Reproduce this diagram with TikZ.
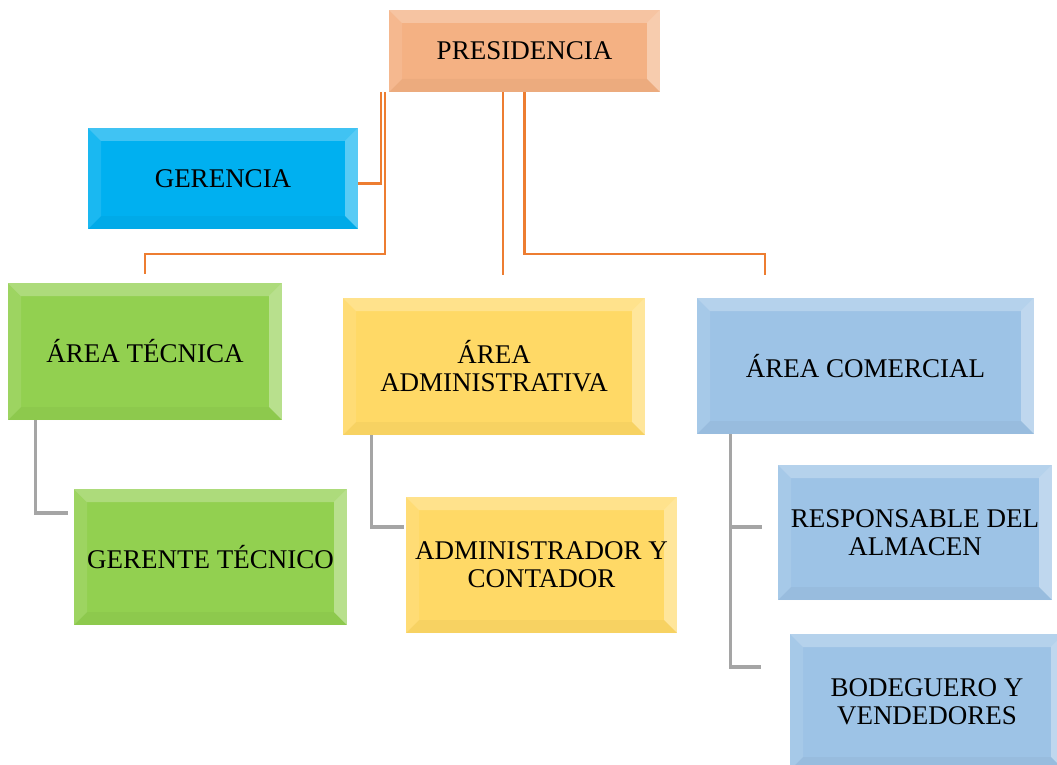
\documentclass[tikz,border=0pt]{standalone}
\usepackage{fontspec}
\setmainfont{Liberation Serif}
\usetikzlibrary{calc}

\definecolor{presfill}{HTML}{F4B183}
\definecolor{gerfill}{HTML}{00B0F0}
\definecolor{tecfill}{HTML}{92D050}
\definecolor{admfill}{HTML}{FFD966}
\definecolor{comfill}{HTML}{9DC3E6}
\definecolor{orangeline}{HTML}{ED7D31}
\definecolor{grayline}{HTML}{A5A5A5}

\begin{document}
\begin{tikzpicture}[x=1pt,y=-1pt,
    bevelbox/.style={rectangle,inner sep=0pt,align=center,
      font=\fontsize{27}{28}\selectfont,
      path picture={
        % top, left, right and bottom bevel bands
        \fill[white,opacity=.25] (path picture bounding box.north west) -- (path picture bounding box.north east)
          -- ([xshift=-13pt,yshift=-13pt]path picture bounding box.north east)
          -- ([xshift=13pt,yshift=-13pt]path picture bounding box.north west) -- cycle;
        \fill[white,opacity=.1] (path picture bounding box.north west) -- (path picture bounding box.south west)
          -- ([xshift=13pt,yshift=13pt]path picture bounding box.south west)
          -- ([xshift=13pt,yshift=-13pt]path picture bounding box.north west) -- cycle;
        \fill[white,opacity=.35] (path picture bounding box.north east) -- (path picture bounding box.south east)
          -- ([xshift=-13pt,yshift=13pt]path picture bounding box.south east)
          -- ([xshift=-13pt,yshift=-13pt]path picture bounding box.north east) -- cycle;
        \fill[black,opacity=.03] (path picture bounding box.south west) -- (path picture bounding box.south east)
          -- ([xshift=-13pt,yshift=13pt]path picture bounding box.south east)
          -- ([xshift=13pt,yshift=13pt]path picture bounding box.south west) -- cycle;
      }},
    orgwire/.style={orangeline,line width=2.6pt},
    graywire/.style={grayline,line width=3.2pt}]

    \useasboundingbox (0,0) rectangle (1057,765);
    \clip (0,0) rectangle (1057,765);

    % boxes
    \node[bevelbox,fill=presfill,minimum width=271pt,minimum height=82pt] (pres) at (524.5,51) {PRESIDENCIA};
    \node[bevelbox,fill=gerfill,minimum width=270pt,minimum height=101pt] (ger) at (223,178.5) {GERENCIA};
    \node[bevelbox,fill=tecfill,minimum width=274pt,minimum height=137pt] (tec) at (145,351.5) {ÁREA TÉCNICA};
    \node[bevelbox,fill=admfill,minimum width=302pt,minimum height=137pt] (adm) at (494,366.5) {ÁREA\\ADMINISTRATIVA};
    \node[bevelbox,fill=comfill,minimum width=337pt,minimum height=136pt] (com) at (865.5,366) {ÁREA COMERCIAL};
    \node[bevelbox,fill=tecfill,minimum width=273pt,minimum height=136pt] (gtec) at (210.5,557) {GERENTE TÉCNICO};
    \node[bevelbox,fill=admfill,minimum width=271pt,minimum height=136pt] (cont) at (541.5,565) {ADMINISTRADOR Y\\CONTADOR};
    \node[bevelbox,fill=comfill,minimum width=274pt,minimum height=135pt] (alm) at (915,532.5) {RESPONSABLE DEL\\ALMACEN};
    \node[bevelbox,fill=comfill,minimum width=274pt,minimum height=136pt] (bod) at (927,702) {BODEGUERO Y\\VENDEDORES};

    % orange connectors
    \coordinate (p1) at ($(pres.south west)+(-8,0)$);
    \coordinate (p2) at ($(pres.south west)+(-4,0)$);
    \coordinate (p3) at ($(pres.south)+(-21.5,0)$);
    \coordinate (tecin) at ($(tec.north)+(0,-9)$);
    \coordinate (admin) at ($(adm.north)+(9,-23)$);
    \coordinate (comin) at ($(com.north)+(-100.5,-23)$);
    \draw[orgwire] (p1) |- ($(ger.east)+(0,5)$);
    \draw[orgwire] (p2) |- ($(tecin)+(0,-20)$) -- (tecin);
    \draw[orgwire] (p3) -- (p3 |- admin);
    \draw[orgwire] (pres.south) |- ($(comin)+(0,-21)$) -- (comin);

    % gray connectors
    \coordinate (t1) at ($(tec.south west)+(28,0)$);
    \coordinate (t2) at ($(gtec.west)+(-6,-44)$);
    \coordinate (a1) at ($(adm.south west)+(29,0)$);
    \coordinate (a2) at ($(cont.west)+(-2,-38)$);
    \coordinate (c1) at ($(com.south west)+(34,0)$);
    \coordinate (c2) at ($(alm.west)+(-16,-5.5)$);
    \coordinate (c3) at ($(bod.west)+(-29,-35)$);
    \draw[graywire] (t1) |- (t2);
    \draw[graywire] (a1) |- (a2);
    \draw[graywire] (c1) |- (c3);
    \draw[graywire] (c1 |- c2) -- (c2);
\end{tikzpicture}
\end{document}
